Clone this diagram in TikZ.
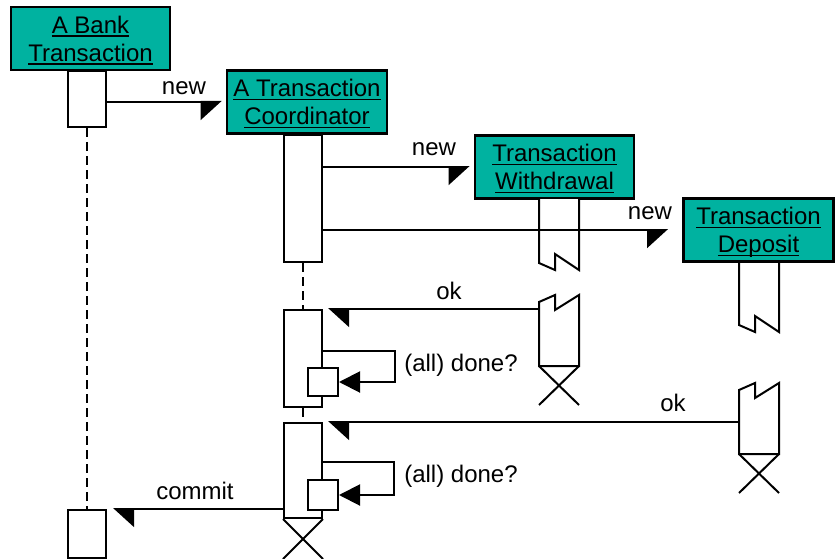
\documentclass[tikz,border=0pt]{standalone}
\usepackage{fontspec}
\setmainfont{Liberation Sans}
\usetikzlibrary{arrows.meta}

\definecolor{objteal}{RGB}{0,178,160}
% underlined object name, rule kept out of the box depth
\newcommand{\objname}[1]{\setbox0\hbox{#1}\rlap{\raisebox{-3.4pt}[0pt][0pt]{\rule{\wd0}{1.5pt}}}\box0}

\begin{document}
\begin{tikzpicture}[x=1pt, y=-1pt, font=\fontsize{24}{28}\selectfont, line width=2pt,
		objbox/.style={draw, line width=2.7pt, fill=objteal, minimum width=159pt, minimum height=63pt,
			inner sep=0pt, align=center, text depth=0pt},
		actbar/.style={draw, fill=white, minimum width=38pt, inner sep=0pt},
		msgnew/.style={-{Triangle[right, length=20pt, width=36pt]}},
		msgback/.style={-{Triangle[left, length=20pt, width=36pt]}, shorten >=5pt},
		selfcall/.style={-{Triangle[length=21pt, width=21pt]}},
		lifeline/.style={dash pattern=on 9pt off 5pt},
		lbl/.style={anchor=base, inner sep=0pt}]
		\useasboundingbox (0,0) rectangle (835,559);

		% --- object headers ---
		\node[objbox] (bank) at (90.5,38.5) {\objname{A Bank}\\\objname{Transaction}};
		\node[objbox, minimum width=160pt] (coord) at (307,102) {\objname{A Transaction}\\\objname{Coordinator}};
		\node[objbox] (wd) at (554.5,167) {\objname{Transaction}\\\objname{Withdrawal}};
		\node[objbox, minimum width=150pt] (dp) at (758.5,230) {\objname{Transaction}\\\objname{Deposit}};

		% --- activation bars ---
		\node[actbar, minimum height=56pt] (bb1) at (87,99) {};
		\node[actbar, minimum height=48pt] (bb2) at (87,534) {};
		\node[actbar, minimum height=127pt] (cb1) at (303,198.5) {};
		\node[actbar, minimum height=97pt] (cb2) at (303,358.5) {};
		\node[actbar, minimum height=95pt] (cb3) at (303,470.5) {};

		% --- dashed lifelines between bars ---
		\draw[lifeline] (bb1.south) -- (bb2.north);
		\draw[lifeline] (cb1.south) -- (cb2.north);
		\draw[lifeline] (cb2.south) -- (cb3.north);

		% --- coordinator ends with a cross ---
		\draw (cb3.south west) -- ++(40,40) (cb3.south east) -- ++(-40,40);

		% --- broken bars of withdrawal / deposit, each ending with a cross ---
		\foreach \nm/\xl/\ya/\yb/\yc/\yd in {wd/539/199/263/302/366, dp/739/263/325/390/454} {
			\draw[fill=white] (\xl,\ya) -- (\xl,\yb) -- ++(16,7) -- ++(0,-16) -- ++(24,16) -- (\xl+40,\ya);
			\draw[fill=white] (\xl,\yd) -- (\xl,\yc) -- ++(16,-7) -- ++(0,15) -- ++(24,-15) -- (\xl+40,\yd) -- cycle;
			\draw (\xl,\yd) -- ++(40,39) (\xl+40,\yd) -- ++(-40,39);
			\coordinate (\nm-end) at (\xl,\yc);
		}

		% --- creation messages ---
		\draw[msgnew, shorten >=4pt] (bb1.east |- coord.west) -- (coord.west);
		\draw[msgnew, shorten >=4pt] (cb1.east |- wd.west) -- (wd.west);
		\draw[msgnew, shorten >=14pt] (cb1.east |- dp.west) -- (dp.west);

		% --- replies ---
		\draw[msgback] (wd-end |- cb2.north east) -- (cb2.north east);
		\draw[msgback] (dp-end |- cb3.north east) -- (cb3.north east);
		\draw[msgback, shorten >=6pt] (cb3.west |- bb2.north) -- (bb2.north east);

		% --- self calls ---
		\node[actbar, minimum width=30pt, minimum height=28pt] (sq1) at (323,382) {};
		\node[actbar, minimum width=30pt, minimum height=30pt] (sq2) at (323,495) {};
		\draw[selfcall] ([yshift=31pt]sq1.east -| cb2.east) -| ([xshift=56pt]sq1.east) -- (sq1.east);
		\draw[selfcall] ([yshift=33pt]sq2.east -| cb3.east) -| ([xshift=55pt]sq2.east) -- (sq2.east);

		% --- message labels ---
		\node[lbl] (new1) at (184,95) {new};
		\node[lbl] (new2) at (434,155) {new};
		\node[lbl] (new3) at (650,219) {new};
		\node[lbl] (ok1) at (449,299) {ok};
		\node[lbl] (ok2) at (673,411) {ok};
		\node[lbl] (done1) at (461,371) {(all) done?};
		\node[lbl] (done2) at (461,482) {(all) done?};
		\node[lbl] (commit) at (195,499) {commit};
	\end{tikzpicture}
\end{document}
